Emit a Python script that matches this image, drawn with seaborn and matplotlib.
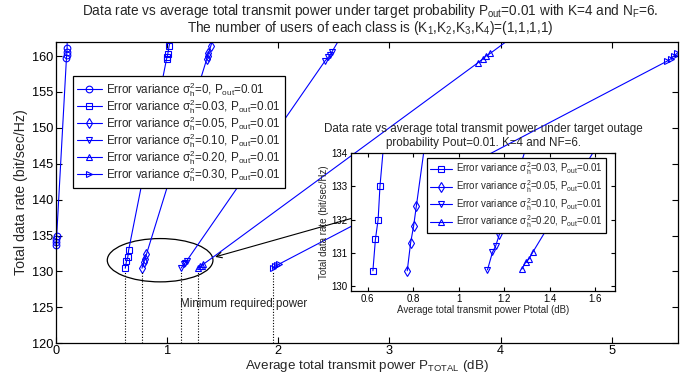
import numpy as np
import matplotlib
matplotlib.use('Agg')
import matplotlib.pyplot as plt
import seaborn as sns
from matplotlib.patches import Ellipse
from matplotlib.lines import Line2D
from matplotlib.transforms import Bbox, TransformedBbox

# ---------------- data ----------------
variances = ['0', '0.03', '0.05', '0.10', '0.20', '0.30']
markers = ['o', 's', 'd', 'v', '^', '>']

power_v000 = [0.0, 0.0, 0.003, 0.006, 0.094, 0.096, 0.098, 0.100, 0.105]
rate_v000 = [133.7, 134.1, 134.5, 134.9, 159.7, 160.1, 160.5, 161.1, 172.0]

power_v003 = [0.623, 0.634, 0.646, 0.654, 0.995, 1.000, 1.006, 1.018, 1.080]
rate_v003 = [130.45, 131.4, 132.0, 133.0, 159.6, 159.9, 160.3, 161.4, 166.0]

power_v005 = [0.774, 0.789, 0.802, 0.814, 1.357, 1.365, 1.372, 1.393, 1.485]
rate_v005 = [130.45, 131.3, 131.8, 132.4, 159.6, 160.0, 160.4, 161.4, 166.0]

power_v010 = [1.127, 1.149, 1.163, 1.177, 2.420, 2.450, 2.465, 2.480, 2.700]
rate_v010 = [130.48, 131.01, 131.2, 131.5, 159.3, 159.8, 160.1, 160.5, 166.3]

power_v020 = [1.278, 1.295, 1.310, 1.327, 3.800, 3.840, 3.870, 3.910, 4.400]
rate_v020 = [130.5, 130.71, 130.81, 131.02, 159.1, 159.6, 160.0, 160.4, 166.0]

power_v030 = [1.950, 1.970, 1.990, 2.010, 5.500, 5.530, 5.560, 5.590, 5.900]
rate_v030 = [130.5, 130.7, 130.85, 131.05, 159.3, 159.6, 160.0, 160.4, 162.9]

powers = [power_v000, power_v003, power_v005, power_v010, power_v020, power_v030]
rates = [rate_v000, rate_v003, rate_v005, rate_v010, rate_v020, rate_v030]

main_xticks = [0, 1, 2, 3, 4, 5]
main_yticks = [120, 125, 130, 135, 140, 145, 150, 155, 160]
inset_xticks = [0.6, 0.8, 1.0, 1.2, 1.4, 1.6]
inset_xticklabels = ['0.6', '0.8', '1', '1.2', '1.4', '1.6']
inset_yticks = [130, 131, 132, 133, 134]
inset_series = [1, 2, 3, 4]

# ---------------- style ----------------
sns.set_style('ticks')
plt.rcParams['font.family'] = ['Liberation Sans', 'DejaVu Sans']
plt.rcParams['mathtext.fontset'] = 'custom'
plt.rcParams['mathtext.rm'] = 'Liberation Sans'
plt.rcParams['mathtext.it'] = 'Liberation Sans'
plt.rcParams['mathtext.sf'] = 'Liberation Sans'
plt.rcParams['mathtext.default'] = 'rm'
plt.rcParams['axes.linewidth'] = 0.9
plt.rcParams['axes.edgecolor'] = 'black'

BLUE = '#0000ff'
W, H = 686, 373

def label_for(v):
    return r'Error variance $\sigma_h^2$=' + v + r', P$_{out}$=0.01'

fig = plt.figure(figsize=(6.86, 3.73), dpi=100)
ax = fig.add_axes([56 / W, 1 - 343.3 / H, (678.3 - 56) / W, (343.3 - 41.7) / H])

handles = []
for i in range(6):
    sns.lineplot(x=powers[i], y=rates[i], ax=ax, sort=False, estimator=None,
                 color=BLUE, marker=markers[i], markersize=4.8,
                 markerfacecolor='none', markeredgecolor=BLUE, markeredgewidth=0.8,
                 linewidth=0.8)
    ln = ax.lines[-1]
    ln.set_clip_box(TransformedBbox(Bbox([[-0.03, 0.0], [1.0, 1.0]]), ax.transAxes))
    handles.append(Line2D([], [], color=BLUE, marker=markers[i], markersize=4.8,
                          markerfacecolor='none', markeredgecolor=BLUE,
                          markeredgewidth=0.8, linewidth=0.8))

# dotted lines at minimum required power
for i in range(1, 6):
    ax.vlines(powers[i][0], 120, rates[i][0] - 0.4, colors='black',
              linestyles=(0, (1, 1.5)), linewidth=0.8)

ax.add_patch(Ellipse((0.937, 131.57), width=0.951, height=6.03, fill=False,
                     edgecolor='black', linewidth=0.9))
ax.annotate('', xy=(1.432, 132.03), xytext=(2.66, 137.4),
            arrowprops=dict(arrowstyle='->', color='black', lw=0.8,
                            shrinkA=0, shrinkB=0))
ax.text(1.117, 125.46, 'Minimum required power', fontsize=8.3, ha='left',
        va='center', color='#222222')

ax.set_xlim(0, 5.6)
ax.set_ylim(120, 162)
ax.set_xticks(main_xticks)
ax.set_yticks(main_yticks)
ax.tick_params(direction='in', top=True, right=True, length=4, width=0.8,
               labelsize=9.2, colors='black')
ax.tick_params(axis='x', pad=1.2)
ax.tick_params(axis='y', pad=2)
for s in ax.spines.values():
    s.set_visible(True)
ax.set_xlabel(r'Average total transmit power P$_{TOTAL}$ (dB)', fontsize=9.6,
              va='baseline')
ax.xaxis.set_label_coords(0.5, -(368.8 - 343.3) / 301.6)
ax.set_ylabel('Total data rate (bit/sec/Hz)', fontsize=10.2, labelpad=3)

fig.text(370 / W, 1 - 15 / H,
         r'Data rate vs average total transmit power under target probability '
         r'P$_{out}$=0.01 with K=4 and N$_F$=6.', fontsize=9.8, ha='center',
         va='baseline')
fig.text(370 / W, 1 - 32 / H,
         r'The number of users of each class is (K$_1$,K$_2$,K$_3$,K$_4$)=(1,1,1,1)',
         fontsize=9.8, ha='center', va='baseline')

leg = ax.legend(handles, [label_for(v) for v in variances], loc='upper left',
                bbox_to_anchor=(0.0273, 0.886), borderaxespad=0, fontsize=8.4,
                frameon=True, fancybox=False, framealpha=1, edgecolor='black',
                handlelength=2.1, handletextpad=0.4, labelspacing=-0.15,
                borderpad=0.35)
leg.get_frame().set_linewidth(0.9)

# ---------------- inset ----------------
ins = fig.add_axes([350.7 / W, 1 - 291 / H, (615 - 350.7) / W, (291 - 153.3) / H])
ins.set_facecolor('white')
ihandles = []
for i in inset_series:
    sns.lineplot(x=powers[i], y=rates[i], ax=ins, sort=False, estimator=None,
                 color=BLUE, marker=markers[i], markersize=4.8,
                 markerfacecolor='none', markeredgecolor=BLUE, markeredgewidth=0.8,
                 linewidth=0.8)
    ihandles.append(Line2D([], [], color=BLUE, marker=markers[i], markersize=4.8,
                           markerfacecolor='none', markeredgecolor=BLUE,
                           markeredgewidth=0.8, linewidth=0.8))
ins.set_xlim(0.5253, 1.688)
ins.set_ylim(129.84, 134)
ins.set_xticks(inset_xticks)
ins.set_xticklabels(inset_xticklabels)
ins.set_yticks(inset_yticks)
ins.tick_params(direction='in', top=True, right=True, length=3, width=0.8,
                labelsize=7, pad=2, colors='black')
for s in ins.spines.values():
    s.set_visible(True)
ins.set_xlabel('Average total transmit power Ptotal (dB)', fontsize=7, labelpad=1)
ins.set_ylabel('Total data rate (bit/sec/Hz)', fontsize=7, labelpad=2)
fig.text(483 / W, 1 - 132 / H,
         'Data rate vs average total transmit power under target outage',
         fontsize=8.4, ha='center', va='baseline')
fig.text(483 / W, 1 - 146 / H, 'probability Pout=0.01. K=4 and NF=6.',
         fontsize=8.4, ha='center', va='baseline')
ileg = ins.legend(ihandles, [label_for(variances[i]) for i in inset_series],
                  loc='upper right', bbox_to_anchor=(0.966, 0.968), borderaxespad=0,
                  fontsize=7, frameon=True, fancybox=False, framealpha=1,
                  edgecolor='black', handlelength=2.3, handletextpad=0.4,
                  labelspacing=0.08, borderpad=0.3)
ileg.get_frame().set_linewidth(0.9)

fig.savefig('out.png', dpi=100)
